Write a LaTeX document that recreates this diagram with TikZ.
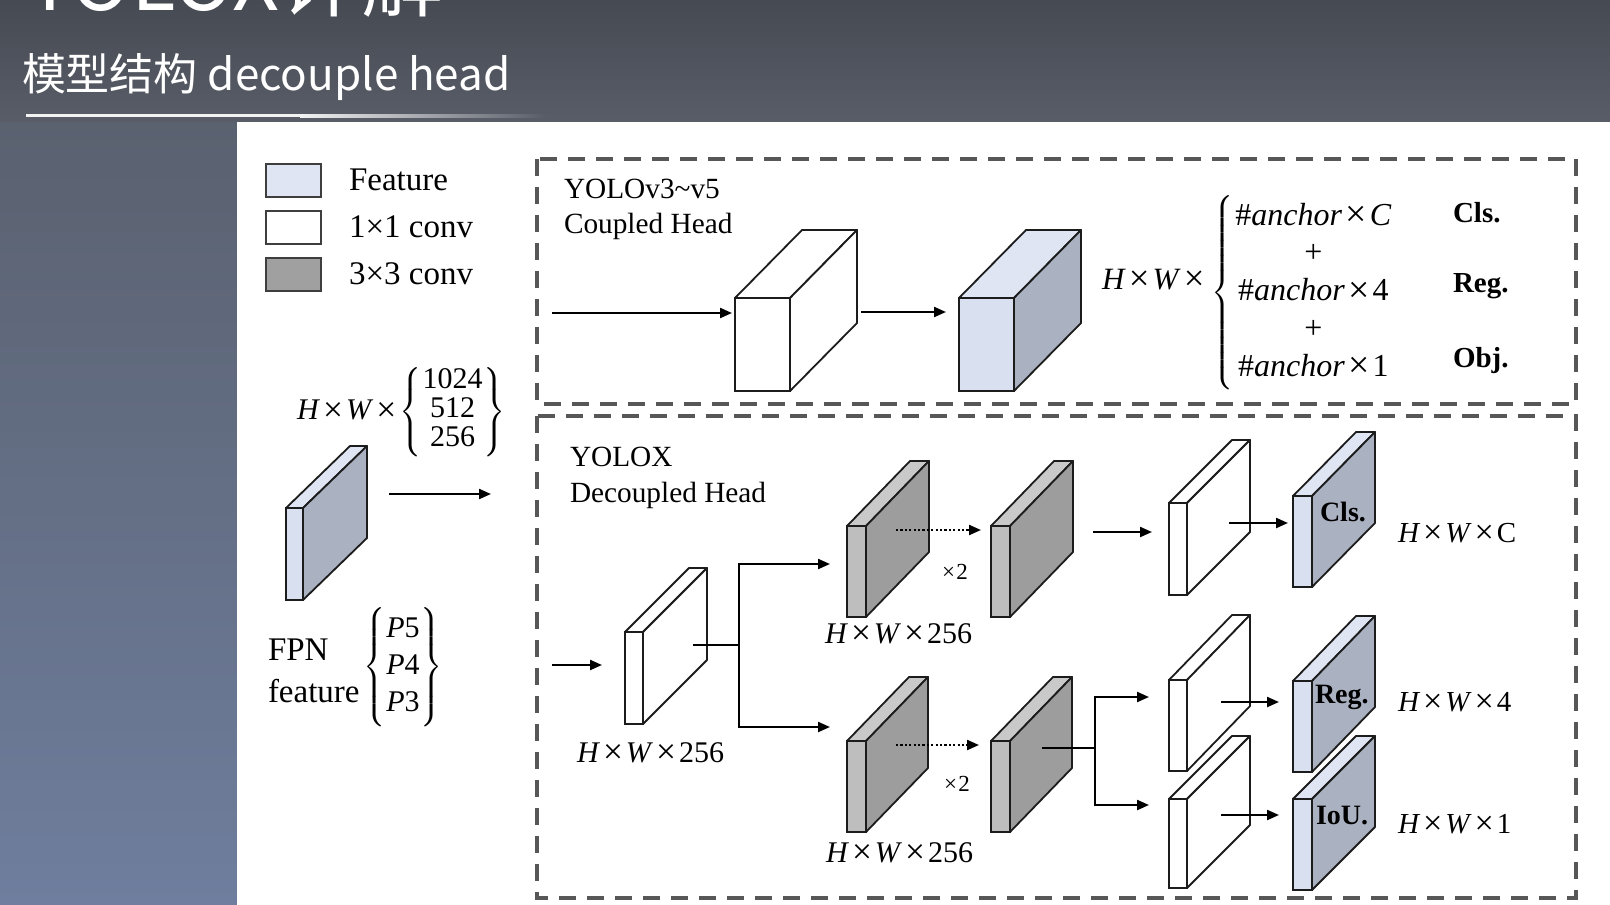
\RequirePackage{fix-cm}
\documentclass[tikz,border=0pt]{standalone}
\usepackage{exscale}
\usepackage{graphicx}
\usepackage{fontspec}
\setmainfont{Liberation Serif}
\newfontfamily\cjk{Noto Sans CJK SC}
\usetikzlibrary{arrows.meta,calc}
\definecolor{band1}{HTML}{464A52}
\definecolor{band2}{HTML}{585D68}
\definecolor{side1}{HTML}{5A616F}
\definecolor{side2}{HTML}{6F7E9E}
\definecolor{featF}{HTML}{D9E0EF}
\definecolor{featT}{HTML}{DFE5F3}
\definecolor{featS}{HTML}{AAB1C1}
\definecolor{convF}{HTML}{BEBEBE}
\definecolor{convT}{HTML}{C9C9C9}
\definecolor{convS}{HTML}{9D9D9D}
\definecolor{legG}{HTML}{A0A0A0}
\definecolor{dashc}{HTML}{575757}
\definecolor{edge}{HTML}{1C1C1C}
\newcommand{\fs}[2]{\fontsize{#1}{#2}\selectfont}
\newcommand{\tX}{\kern0.1em\raisebox{-0.05em}{\scalebox{1.18}{×}}\kern0.1em}
\newcommand{\HW}{\textit{H}\tX\textit{W}\tX}
\newcommand{\blkbox}[9]{%
  \node[blk, fill=#7, minimum width=#4pt, minimum height=#5pt, anchor=north west] (#1) at (#2,#3) {};
  \draw[face, fill=#8] (#1.north west) -- ++(#6) -- ($(#1.north east)+(#6)$) -- (#1.north east) -- cycle;
  \draw[face, fill=#9] (#1.north east) -- ++(#6) -- ($(#1.south east)+(#6)$) -- (#1.south east) -- cycle;
}
\tikzset{
  blk/.style={draw=edge, line width=1.8pt, inner sep=0pt, outer sep=0pt, rectangle},
  face/.style={draw=edge, line width=1.8pt, line join=round},
  legbox/.style={draw=edge!85, line width=2.4pt, inner sep=0pt, outer sep=0pt, rectangle, minimum width=55pt, minimum height=33pt, anchor=north west},
  arr/.style={line width=2.2pt, -{Triangle[length=12pt,width=10pt]}},
  darr/.style={arr, dash pattern=on 2.2pt off 2.2pt},
  dbox/.style={draw=dashc, line width=4pt, dash pattern=on 17pt off 11pt},
  tx/.style={inner sep=0pt, outer sep=0pt, anchor=base west},
  serif/.style={tx, font=\fs{29.3}{35}},
  leg/.style={tx, font=\fs{33}{38}},
  bold/.style={tx, font=\fs{29}{34}\bfseries},
  bl/.style={tx, font=\fs{28}{32}\bfseries},
  mth/.style={tx, font=\fs{30}{34}},
  mthb/.style={tx, font=\fs{29}{32}},
  small/.style={inner sep=0pt, outer sep=0pt, font=\fs{23}{24}},
}
\begin{document}
\begin{tikzpicture}[x=1pt,y=-1pt]
\useasboundingbox (0,0) rectangle (1610,905);
\clip (0,0) rectangle (1610,905);
% slide background
\shade[top color=band1, bottom color=band2] (0,0) rectangle (1610,123);
\shade[top color=side1, bottom color=side2] (0,122) rectangle (1610,905);
\fill[white] (237,122) rectangle (1610,905);
\node[tx, text=white, font=\cjk\fs{82}{90}] (title) at (28,10) {YOLOX详解};
\node[tx, text=white, font=\cjk\fs{44}{50}] (sub) at (22,90) {模型结构 decouple head};
\fill[white!92!band2] (26,114) rectangle (300,117);
\shade[left color=white!92!band2, right color=band2] (300,114) rectangle (545,117);

% legend
\node[legbox, fill=featT] (lg1) at (266,164) {};
\node[legbox, fill=white] (lg2) at (266,211) {};
\node[legbox, fill=legG] (lg3) at (266,258) {};
\node[leg] (lt1) at (349,190) {Feature};
\node[leg] (lt2) at (349,237) {1×1 conv};
\node[leg] (lt3) at (349,284) {3×3 conv};

% dashed frames
\draw[dbox] (537,159) rectangle (1576,404);
\draw[dbox] (537,416) rectangle (1576,898);

% FPN feature
\blkbox{fpn}{286}{508}{17}{92}{64,-62}{featF}{featT}{featS}
\node[anchor=west, inner sep=0pt, font=\fs{30}{29}] (hwl) at (297,412)
  {\HW$\left\{\mbox{\begin{tabular}{@{\kern1pt}c@{\kern1pt}}1024\\512\\256\end{tabular}}\right\}$};
\node[leg] (fpnt) at (268,660) {FPN};
\node[leg] (feat) at (268,702) {feature};
\node[anchor=west, inner sep=0pt, font=\fs{30}{37}] (pl) at (363,667)
  {$\left\{\mbox{\begin{tabular}{@{\kern1pt}c@{\kern1pt}}\textit{P}5\\\textit{P}4\\\textit{P}3\end{tabular}}\right\}$};
\coordinate (fa) at (389,494);
\coordinate (fb) at (491,494);
\draw[arr] (fa) -- (fb);

% coupled head
\node[serif] (yv) at (564,198) {YOLOv3\char"7E v5};
\node[serif] (ch) at (564,233) {Coupled Head};
\blkbox{c1}{735}{298}{55}{93}{67,-68}{white}{white}{white}
\blkbox{c2}{959}{298}{55}{93}{67,-68}{featF}{featT}{featS}
\coordinate (cin) at (552,313);
\draw[arr, shorten >=3pt] (cin) -- (cin -| c1.west);
\coordinate (c12) at (861,312);
\draw[arr, shorten >=13pt] (c12) -- (c12 -| c2.west);
\node[tx, font=\fs{31}{34}] (hwt) at (1102,289) {\HW};
\node[anchor=west, inner sep=0pt, font=\fs{32}{37.75}] (anc) at (1211,293)
  {$\left\{\mbox{\begin{tabular}{@{\kern2pt}c@{}}\#\textit{anchor}\tX\textit{C}\\+\\\#\textit{anchor}\tX 4\\+\\\#\textit{anchor}\tX 1\end{tabular}}\right.$};
\node[bold] (tcls) at (1453,222) {Cls.};
\node[bold] (treg) at (1453,292) {Reg.};
\node[bold] (tobj) at (1453,367) {Obj.};

% decoupled head
\node[serif] (yx) at (570,466) {YOLOX};
\node[serif] (dh) at (570,502) {Decoupled Head};
\blkbox{stem}{625}{632}{18}{92}{64,-64}{white}{white}{white}
\blkbox{upA}{847}{526}{19}{91}{63,-65}{convF}{convT}{convS}
\blkbox{upB}{991}{526}{19}{91}{63,-65}{convF}{convT}{convS}
\blkbox{dnA}{847}{741}{19}{91}{62,-64}{convF}{convT}{convS}
\blkbox{dnB}{991}{741}{19}{91}{62,-64}{convF}{convT}{convS}
\blkbox{wa}{1169}{503}{18}{92}{63,-63}{white}{white}{white}
\blkbox{wb}{1169}{680}{18}{91}{63,-65}{white}{white}{white}
\blkbox{wc}{1169}{799}{18}{89}{63,-63}{white}{white}{white}
\blkbox{cls}{1293}{496}{19}{91}{63,-64}{featF}{featT}{featS}
\blkbox{reg}{1293}{681}{19}{91}{63,-65}{featF}{featT}{featS}
\blkbox{iou}{1293}{799}{19}{91}{63,-63}{featF}{featT}{featS}

\node[bl] (lcls) at (1320,521) {Cls.};
\node[bl] (lreg) at (1315,703) {Reg.};
\node[bl] (liou) at (1316,824) {IoU.};

\coordinate (din) at (552,665);
\draw[arr, shorten >=23pt] (din) -- (din -| stem.west);
\coordinate (so) at (693,645);
\coordinate (bu) at (739,564);
\coordinate (bd) at (739,727);
\draw[arr, shorten >=17pt] (so) -| (bu) -- (bu -| upA.west);
\draw[arr, shorten >=17pt] (so) -| (bd) -- (bd -| dnA.west);
\coordinate (ua) at (896,530);
\draw[darr, shorten >=10pt] (ua) -- (ua -| upB.west);
\coordinate (da) at (896,745);
\draw[darr, shorten >=12pt] (da) -- (da -| dnB.west);
\node[small] (x2a) at (955,572) {×\kern0.06em 2};
\node[small] (x2b) at (957,784) {×\kern0.06em 2};
\coordinate (ub) at (1093,532);
\draw[arr, shorten >=17pt] (ub) -- (ub -| wa.west);
\coordinate (wo) at (1229,523);
\draw[arr, shorten >=5pt] (wo) -- (wo -| cls.west);
\coordinate (lb) at (1042,748);
\coordinate (lu) at (1095,697);
\coordinate (ld) at (1095,805);
\draw[arr, shorten >=20pt] (lb) -| (lu) -- (lu -| wb.west);
\draw[arr, shorten >=20pt] (lb) -| (ld) -- (ld -| wc.west);
\coordinate (rb) at (1221,702);
\draw[arr, shorten >=14pt] (rb) -- (rb -| reg.west);
\coordinate (ib) at (1221,815);
\draw[arr, shorten >=14pt] (ib) -- (ib -| iou.west);

\node[mth] (hs) at (577,762) {\HW 256};
\node[mth] (hu) at (825,643) {\HW 256};
\node[mth] (hd) at (826,862) {\HW 256};
\node[mthb] (hc) at (1398,542) {\HW C};
\node[mthb] (h4) at (1398,711) {\HW 4};
\node[mthb] (h1) at (1398,833) {\HW 1};
\end{tikzpicture}
\end{document}
